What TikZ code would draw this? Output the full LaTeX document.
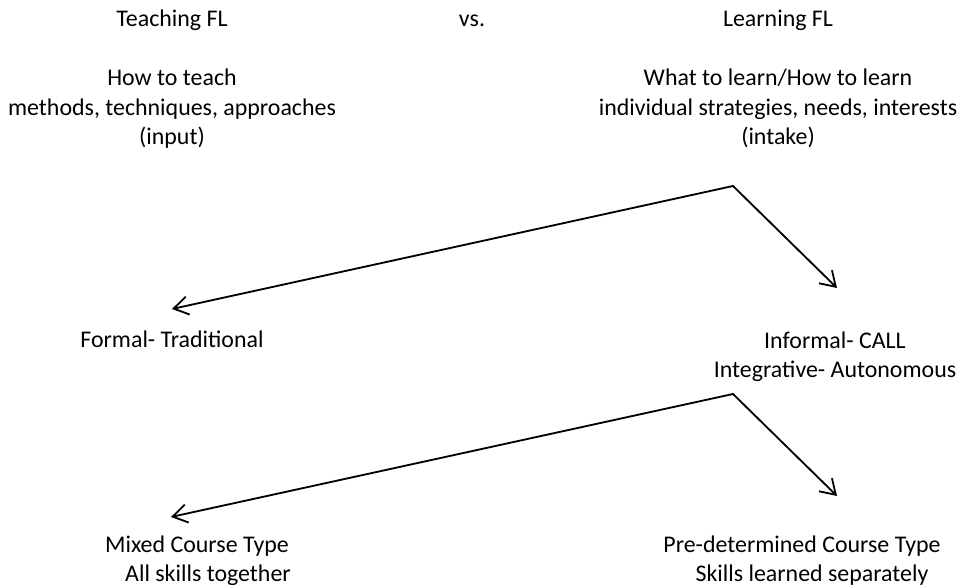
\documentclass[tikz,border=0pt]{standalone}
\usepackage{fontspec}
\setmainfont{Carlito}
\usetikzlibrary{positioning,arrows.meta}
\tikzset{
  txt/.style={align=center,anchor=base,inner sep=2pt,font=\fontsize{17}{21}\selectfont},
  arr/.style={{Straight Barb[length=3.6mm,width=4.6mm]}-{Straight Barb[length=3.6mm,width=4.6mm]},line width=1.3pt},
}

\begin{document}
\begin{tikzpicture}
\useasboundingbox (0,0) rectangle (24.125,14.675);
% headings
\node[txt] (teach) at (4.30,14.0) {Teaching FL};
\node[txt] (vs) at (11.80,14.0) {vs.};
\node[txt] (learn) at (19.45,14.0) {Learning FL};

% what each side is about (base = last line)
\node[txt] (input) at (4.30,11.05) {How to teach\\methods, techniques, approaches\\(input)};
\node[txt] (intake) at (19.45,11.05) {What to learn/How to learn\\individual strategies, needs, interests\\(intake)};

% first split
\node[txt] (formal) at (4.30,5.975) {Formal- Traditional};
\node[txt] (informal) at (20.875,5.225) {Informal- CALL\\Integrative- Autonomous};
\coordinate (split1) at (18.325,10.025);
\draw[arr] ([yshift=9.75mm]formal.base) -- (split1) -- ([xshift=0.5mm,yshift=22.5mm]informal.base);

% second split
\node[txt] (mixed) at (4.925,0.125) {Mixed Course Type\\\hspace*{5.5mm}All skills together};
\node[txt] (predet) at (20.05,0.125) {Pre-determined Course Type\\\hspace*{5mm}Skills learned separately};
\coordinate (split2) at ([yshift=-5.2cm]split1);
\draw[arr] ([xshift=-6.5mm,yshift=16.25mm]mixed.base) -- (split2) -- ([xshift=8.75mm,yshift=21.5mm]predet.base);
\end{tikzpicture}
\end{document}
